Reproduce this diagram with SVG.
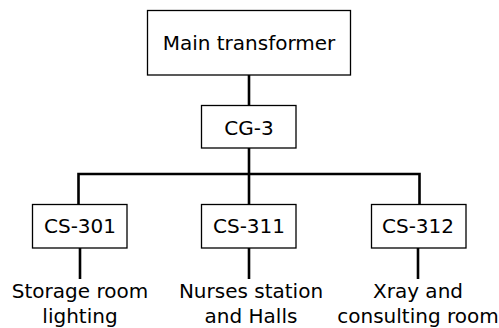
<svg xmlns="http://www.w3.org/2000/svg" width="499" height="328" viewBox="0 0 499 328">
<style>
.box{fill:#fff;stroke:#000;stroke-width:1.3}
.t{font-family:"DejaVu Sans",sans-serif;font-size:20px;fill:#000;text-anchor:middle}
.c{fill:none;stroke:#000;stroke-width:2.6}
</style>
<rect width="499" height="328" fill="#fff"/>
<g id="connectors">
<path class="c" d="M249 75V105"/>
<path class="c" d="M249 148V204"/>
<path class="c" d="M78.5 204V174H419.5V204"/>
<path class="c" d="M80 248V279"/>
<path class="c" d="M249 248V279"/>
<path class="c" d="M418 248V279"/>
</g>
<g id="main"><rect class="box" x="147.5" y="10.5" width="203" height="64.5"/><text class="t" x="249" y="50">Main transformer</text></g>
<g id="cg3"><rect class="box" x="201.5" y="105.5" width="94.5" height="42.5"/><text class="t" x="249" y="135">CG-3</text></g>
<g id="cs301"><rect class="box" x="32.5" y="204.5" width="94.5" height="43.5"/><text class="t" x="80" y="233">CS-301</text></g>
<g id="cs311"><rect class="box" x="201.5" y="204.5" width="94.5" height="43.5"/><text class="t" x="249" y="233">CS-311</text></g>
<g id="cs312"><rect class="box" x="371.5" y="204.5" width="94.5" height="43.5"/><text class="t" x="418" y="233">CS-312</text></g>
<g id="l301"><text class="t" x="80" y="298">Storage room</text><text class="t" x="80" y="323">lighting</text></g>
<g id="l311"><text class="t" x="251" y="298">Nurses station</text><text class="t" x="251" y="323">and Halls</text></g>
<g id="l312"><text class="t" x="418" y="298">Xray and</text><text class="t" x="418" y="323">consulting room</text></g>
</svg>
